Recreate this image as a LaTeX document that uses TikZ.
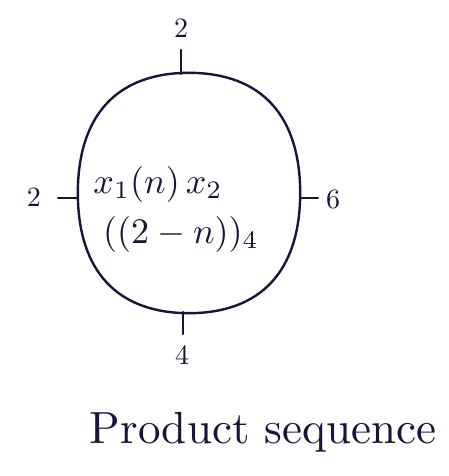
\documentclass[tikz,border=0pt]{standalone}
\usepackage{tikz}
\definecolor{ink}{RGB}{22,22,60}
\tikzset{
  ink/.style={draw=ink, line width=2.4pt, line cap=round, line join=round},
  lbl/.style={text=ink, inner sep=0pt, scale=2.8, transform shape},
  inner/.style={text=ink, inner sep=0pt, scale=3.6, transform shape},
}
\begin{document}
\begin{tikzpicture}[x=1pt,y=-1pt]
\useasboundingbox (0,0) rectangle (449,476);
% main rounded shape (node for naming, outline drawn as superellipse)
\node[minimum width=222pt, minimum height=240pt, inner sep=0pt] (c) at (189,193) {};
\draw[ink] (c.west) .. controls (78,115) and (117,73) .. (c.north)
  .. controls (261,73) and (300,115) .. (c.east)
  .. controls (300,271) and (261,313) .. (c.south)
  .. controls (117,313) and (78,271) .. (c.west) -- cycle;
% inner text
\node[inner] (t1) at (158,184) {$x_1(n)\,x_2$};
\node[inner] (t2) at (181,234) {$((2-n))_4$};
% tick coordinates and labels
\coordinate (ta) at (181,74);
\coordinate (tb) at (181,50);
\node[lbl] (ltop) at (181,28) {2};
\coordinate (la) at (78,198);
\coordinate (lb) at (58,198);
\node[lbl] (lleft) at (34,197) {2};
\coordinate (ra) at (300,198);
\coordinate (rb) at (318,198);
\node[lbl] (lright) at (333,199) {6};
\coordinate (ba) at (183,312);
\coordinate (bb) at (183,334);
\node[lbl] (lbot) at (182,355) {4};
\draw[ink] (ta) -- (tb);
\draw[ink] (la) -- (lb);
\draw[ink] (ra) -- (rb);
\draw[ink] (ba) -- (bb);
% caption
\node[text=ink, inner sep=0pt, scale=4.5, transform shape] (cap) at (263,432) {Product sequence};
\end{tikzpicture}
\end{document}
